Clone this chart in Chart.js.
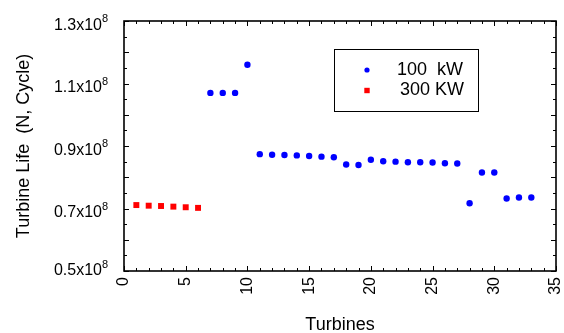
<!DOCTYPE html>
<html>
<head>
<meta charset="utf-8">
<script src="https://cdn.jsdelivr.net/npm/chart.js@4/dist/chart.umd.min.js"></script>
<style>
  html, body { margin: 0; padding: 0; background: #ffffff; }
  #wrap { width: 564px; height: 333px; }
</style>
</head>
<body>
<div id="wrap"><canvas id="c" width="564" height="333"></canvas></div>
<script>
// ---- data ----
const turbines100 = [7, 8, 9, 10, 11, 12, 13, 14, 15, 16, 17, 18, 19, 20, 21, 22, 23, 24, 25, 26, 27, 28, 29, 30, 31, 32, 33];
const life100 = [1.070, 1.070, 1.070, 1.160, 0.874, 0.872, 0.871, 0.870, 0.868, 0.866, 0.864, 0.841, 0.839, 0.856, 0.851, 0.850, 0.848, 0.848, 0.847, 0.845, 0.844, 0.717, 0.815, 0.815, 0.732, 0.735, 0.735];
const turbines300 = [1, 2, 3, 4, 5, 6];
const life300 = [0.711, 0.709, 0.708, 0.706, 0.704, 0.702];
const seriesLabels = ['100  kW', '300 KW'];
const yTickMantissas = ['0.5', '0.7', '0.9', '1.1', '1.3'];
const yTickExponent = '8';
const xTitle = 'Turbines';
const yTitle = 'Turbine Life  (N, Cycle)';

const SCALE = 1e8;
const FONT = '"Liberation Sans", Arial, sans-serif';

function toPoints(xs, ys) { return xs.map((x, i) => ({ x: x, y: ys[i] * SCALE })); }

// custom drawing: frame, inward ticks, superscripted y labels, legend
const decorPlugin = {
  id: 'decor',
  afterDraw(chart) {
    const ctx = chart.ctx;
    const xs = chart.scales.x, ys = chart.scales.y;
    const a = chart.chartArea;
    ctx.save();
    ctx.strokeStyle = '#000';
    ctx.lineWidth = 1;
    for (let v = xs.min; v <= xs.max; v += 1) {
      const px = Math.round(xs.getPixelForValue(v)) + 0.5;
      const len = (v % 5 === 0) ? 5 : 3;
      ctx.beginPath();
      ctx.moveTo(px, a.bottom); ctx.lineTo(px, a.bottom - len);
      ctx.moveTo(px, a.top); ctx.lineTo(px, a.top + len);
      ctx.stroke();
    }
    for (let k = 0; k <= 16; k++) {
      const v = ys.min + k * 0.05 * SCALE;
      const py = Math.round(ys.getPixelForValue(v)) + 0.5;
      const len = (k % 2 === 0) ? 5 : 3;
      ctx.beginPath();
      ctx.moveTo(a.left, py); ctx.lineTo(a.left + len, py);
      ctx.moveTo(a.right, py); ctx.lineTo(a.right - len, py);
      ctx.stroke();
    }
    ctx.lineWidth = 1.6;
    ctx.strokeRect(a.left, a.top, a.right - a.left, a.bottom - a.top);

    ctx.fillStyle = '#000';
    yTickMantissas.forEach(m => {
      const py = ys.getPixelForValue(parseFloat(m) * SCALE);
      ctx.font = '16px ' + FONT;
      ctx.textAlign = 'right';
      ctx.textBaseline = 'middle';
      const off = (py > a.bottom - 2) ? 0 : 4.5;
      ctx.fillText(m + 'x10', 102, py + off);
      ctx.font = '11px ' + FONT;
      ctx.textAlign = 'left';
      ctx.fillText(yTickExponent, 102, py + off - 6.5);
    });

    const lx = 334, ly = 49, lw = 144, lh = 62;
    ctx.fillStyle = '#fff';
    ctx.fillRect(lx, ly, lw, lh);
    ctx.lineWidth = 1;
    ctx.strokeStyle = '#000';
    ctx.strokeRect(lx + 0.5, ly + 0.5, lw, lh);
    const rows = [70, 90.5];
    const textX = [397, 400];
    chart.data.datasets.forEach((ds, i) => {
      ctx.fillStyle = ds.backgroundColor;
      if (ds.pointStyle === 'rect') {
        ctx.fillRect(367 - 2.7, rows[i] - 2.7, 5.4, 5.4);
      } else {
        ctx.beginPath();
        ctx.arc(367, rows[i], 2.6, 0, Math.PI * 2);
        ctx.fill();
      }
      ctx.fillStyle = '#000';
      ctx.font = '18px ' + FONT;
      ctx.textAlign = 'left';
      ctx.textBaseline = 'middle';
      ctx.fillText(ds.label, textX[i], rows[i]);
    });
    ctx.restore();
  }
};

new Chart(document.getElementById('c'), {
  type: 'scatter',
  data: {
    datasets: [
      {
        label: seriesLabels[0],
        data: toPoints(turbines100, life100),
        backgroundColor: '#0000ff',
        borderColor: '#0000ff',
        pointStyle: 'circle',
        pointRadius: 3.2,
        borderWidth: 0
      },
      {
        label: seriesLabels[1],
        data: toPoints(turbines300, life300),
        backgroundColor: '#ff0000',
        borderColor: '#ff0000',
        pointStyle: 'rect',
        pointRadius: 4.2,
        borderWidth: 0
      }
    ]
  },
  options: {
    responsive: false,
    animation: false,
    devicePixelRatio: 1,
    layout: { padding: { top: 21, right: 8, left: 0, bottom: 0 } },
    plugins: {
      legend: { display: false },
      tooltip: { enabled: false }
    },
    scales: {
      x: {
        type: 'linear',
        min: 0,
        max: 35,
        grid: { display: false, drawTicks: false },
        border: { display: false },
        ticks: {
          stepSize: 5,
          minRotation: 90,
          maxRotation: 90,
          padding: 6,
          color: '#000',
          font: { family: FONT, size: 16 }
        },
        title: {
          display: true,
          text: xTitle,
          color: '#000',
          font: { family: FONT, size: 18, lineHeight: 0.9 },
          padding: { top: 0, bottom: 0 }
        },
        afterFit(scale) { scale.height = 62; scale.paddingLeft = 0; scale.paddingRight = 0; }
      },
      y: {
        min: 0.5 * SCALE,
        max: 1.3 * SCALE,
        grid: { display: false, drawTicks: false },
        border: { display: false },
        ticks: { display: false, stepSize: 0.2 * SCALE },
        title: {
          display: true,
          text: yTitle,
          color: '#000',
          font: { family: FONT, size: 18, lineHeight: 1.2 },
          padding: { top: 13, bottom: 0 }
        },
        afterFit(scale) { scale.width = 124; scale.paddingTop = 0; scale.paddingBottom = 0; }
      }
    }
  },
  plugins: [decorPlugin]
});
</script>
</body>
</html>
